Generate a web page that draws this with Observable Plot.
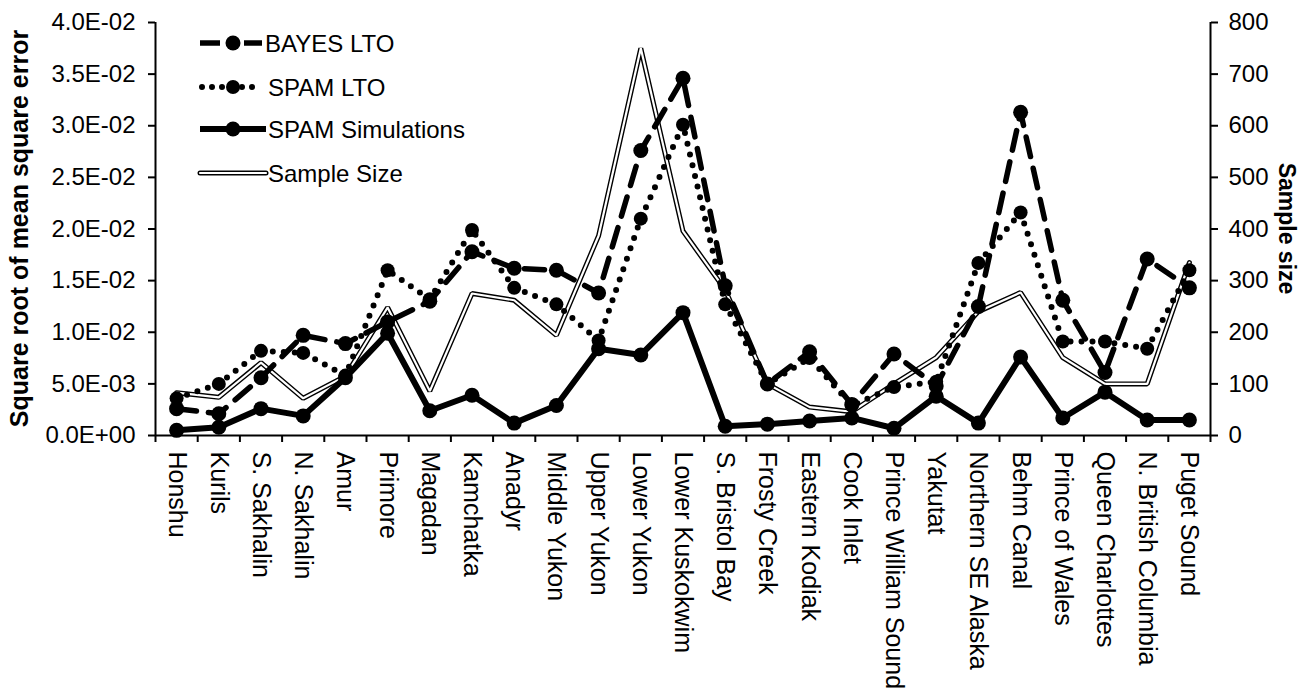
<!DOCTYPE html>
<html>
<head>
<meta charset="utf-8">
<script src="https://cdn.jsdelivr.net/npm/d3@7"></script>
<script src="https://cdn.jsdelivr.net/npm/@observablehq/plot@0.6"></script>
<style>
  html, body { margin: 0; padding: 0; background: #fff; }
  #chart { position: relative; width: 1306px; height: 698px; }
  #chart svg { display: block; }
</style>
</head>
<body>
<div id="chart"></div>
<script>
const categories = ["Honshu","Kurils","S. Sakhalin","N. Sakhalin","Amur","Primore","Magadan","Kamchatka","Anadyr","Middle Yukon","Upper Yukon","Lower Yukon","Lower Kuskokwim","S. Bristol Bay","Frosty Creek","Eastern Kodiak","Cook Inlet","Prince William Sound","Yakutat","Northern SE Alaska","Behm Canal","Prince of Wales","Queen Charlottes","N. British Columbia","Puget Sound"];

const bayesLTO = [0.0026,0.0021,0.0056,0.0097,0.0089,0.0110,0.0130,0.0178,0.0162,0.0160,0.0138,0.0276,0.0346,0.0145,0.0050,0.0081,0.0030,0.0079,0.0048,0.0125,0.0313,0.0131,0.0061,0.0171,0.0143];
const spamLTO  = [0.0036,0.0050,0.0082,0.0080,0.0058,0.0160,0.0132,0.0199,0.0143,0.0127,0.0092,0.0210,0.0301,0.0127,0.0050,0.0075,0.0029,0.0047,0.0052,0.0167,0.0216,0.0091,0.0091,0.0084,0.0160];
const spamSim  = [0.0005,0.0008,0.0026,0.0019,0.0056,0.0099,0.0024,0.0039,0.0012,0.0029,0.0084,0.0078,0.0119,0.0009,0.0011,0.0014,0.0017,0.0007,0.0038,0.0012,0.0076,0.0017,0.0042,0.0015,0.0015];
const sampleSize = [83,74,141,72,115,248,86,275,262,194,387,750,396,282,100,55,46,100,151,240,277,151,100,100,335];

const leftTicks = [0,0.005,0.01,0.015,0.02,0.025,0.03,0.035,0.04];
const rightTicks = [0,100,200,300,400,500,600,700,800];
const yMax = 0.04, nMax = 800;
const K = yMax / nMax; // sample size -> left scale

const legendItems = ["BAYES LTO","SPAM LTO","SPAM Simulations","Sample Size"];

const idx = d3.range(categories.length);
const fmtE = v => {
  const [m, e] = v.toExponential(1).split("e");
  const en = +e;
  return m + "E" + (en < 0 ? "-" : "+") + String(Math.abs(en)).padStart(2, "0");
};

const FONT = "'Liberation Sans', Arial, Helvetica, sans-serif";

const plot = Plot.plot({
  width: 1306,
  height: 698,
  marginLeft: 155,
  marginRight: 96,
  marginTop: 22,
  marginBottom: 263,
  style: { fontFamily: FONT, fontSize: "24px", color: "black", background: "white", overflow: "visible" },
  x: { domain: [-0.5, categories.length - 0.5] },
  y: { domain: [0, yMax] },
  marks: [
    // axes
    Plot.axisY(leftTicks, { anchor: "left", tickFormat: fmtE, tickSize: 7, tickPadding: 13, label: null, strokeWidth: 2 }),
    Plot.axisY(rightTicks.map(n => n * K), { anchor: "right", tickFormat: v => String(Math.round(v / K)), tickSize: 7, tickPadding: 11, label: null, strokeWidth: 2 }),
    Plot.axisX(d3.range(categories.length + 1).map(i => i - 0.5), { anchor: "bottom", tickFormat: () => "", tickSize: 7, label: null, strokeWidth: 2 }),
    Plot.axisX(idx, { anchor: "bottom", tickSize: 0, tickPadding: 16, tickRotate: 90, tickFormat: i => categories[i], label: null, fontSize: 25 }),
    Plot.ruleX([-0.5, categories.length - 0.5], { stroke: "black", strokeWidth: 2 }),
    Plot.ruleY([0], { stroke: "black", strokeWidth: 2 }),

    // Sample size (double line)
    Plot.line(idx, { x: i => i, y: i => sampleSize[i] * K, stroke: "black", strokeWidth: 5, strokeLinejoin: "miter" }),
    Plot.line(idx, { x: i => i, y: i => sampleSize[i] * K, stroke: "white", strokeWidth: 2.2, strokeLinejoin: "miter" }),

    // SPAM simulations
    Plot.line(idx, { x: i => i, y: i => spamSim[i], stroke: "black", strokeWidth: 6 }),
    Plot.dot(idx, { x: i => i, y: i => spamSim[i], r: 7.5, fill: "black", stroke: "none" }),

    // SPAM LTO (dotted)
    Plot.line(idx, { x: i => i, y: i => spamLTO[i], stroke: "black", strokeWidth: 6, strokeDasharray: "0,11", strokeLinecap: "round" }),
    Plot.dot(idx, { x: i => i, y: i => spamLTO[i], r: 7, fill: "black", stroke: "none" }),

    // BAYES LTO (dashed)
    Plot.line(idx, { x: i => i, y: i => bayesLTO[i], stroke: "black", strokeWidth: 5.5, strokeDasharray: "20,12" }),
    Plot.dot(idx, { x: i => i, y: i => bayesLTO[i], r: 7.5, fill: "black", stroke: "none" })
  ]
});

document.getElementById("chart").appendChild(plot);

// Axis titles and legend
const svg = d3.select(plot);
const ys = plot.scale("y");
const xs = plot.scale("x");
const yMid = (ys.apply(0) + ys.apply(yMax)) / 2;
const xLeft = xs.apply(-0.5), xRight = xs.apply(categories.length - 0.5);

svg.append("text")
  .attr("transform", `translate(${xLeft - 136},${yMid}) rotate(-90)`)
  .attr("text-anchor", "middle").attr("dominant-baseline", "central")
  .attr("font-family", FONT).attr("font-size", 25).attr("font-weight", "bold")
  .text("Square root of mean square error");

svg.append("text")
  .attr("transform", `translate(${xRight + 77},${yMid}) rotate(90)`)
  .attr("text-anchor", "middle").attr("dominant-baseline", "central")
  .attr("font-family", FONT).attr("font-size", 23).attr("font-weight", "bold")
  .text("Sample size");

const lg = svg.append("g").attr("transform", `translate(${xLeft + 45},0)`);
const rowY = [43, 87, 129, 173];
const x0 = 0, x1 = 66, xm = 33;
legendItems.forEach((name, k) => {
  const y = rowY[k];
  const g = lg.append("g");
  if (k === 0) {
    g.append("line").attr("x1", x0).attr("x2", 20).attr("y1", y).attr("y2", y).attr("stroke", "black").attr("stroke-width", 5.5);
    g.append("line").attr("x1", 44).attr("x2", 62).attr("y1", y).attr("y2", y).attr("stroke", "black").attr("stroke-width", 5.5);
    g.append("circle").attr("cx", xm).attr("cy", y).attr("r", 7.5).attr("fill", "black");
  } else if (k === 1) {
    g.append("line").attr("x1", 2).attr("x2", 62).attr("y1", y).attr("y2", y).attr("stroke", "black").attr("stroke-width", 6).attr("stroke-dasharray", "0,10").attr("stroke-linecap", "round");
    g.append("circle").attr("cx", xm).attr("cy", y).attr("r", 7).attr("fill", "black");
  } else if (k === 2) {
    g.append("line").attr("x1", x0).attr("x2", x1).attr("y1", y).attr("y2", y).attr("stroke", "black").attr("stroke-width", 6);
    g.append("circle").attr("cx", xm).attr("cy", y).attr("r", 7.5).attr("fill", "black");
  } else {
    g.append("line").attr("x1", x0).attr("x2", x1).attr("y1", y).attr("y2", y).attr("stroke", "black").attr("stroke-width", 5).attr("stroke-linecap", "round");
    g.append("line").attr("x1", x0).attr("x2", x1).attr("y1", y).attr("y2", y).attr("stroke", "white").attr("stroke-width", 2.2).attr("stroke-linecap", "round");
  }
  g.append("text").attr("x", k === 0 ? 65 : 68).attr("y", y)
    .attr("text-anchor", "start")
    .attr("dominant-baseline", "central").attr("font-family", FONT).attr("font-size", 24)
    .text(name);
});
</script>
</body>
</html>
